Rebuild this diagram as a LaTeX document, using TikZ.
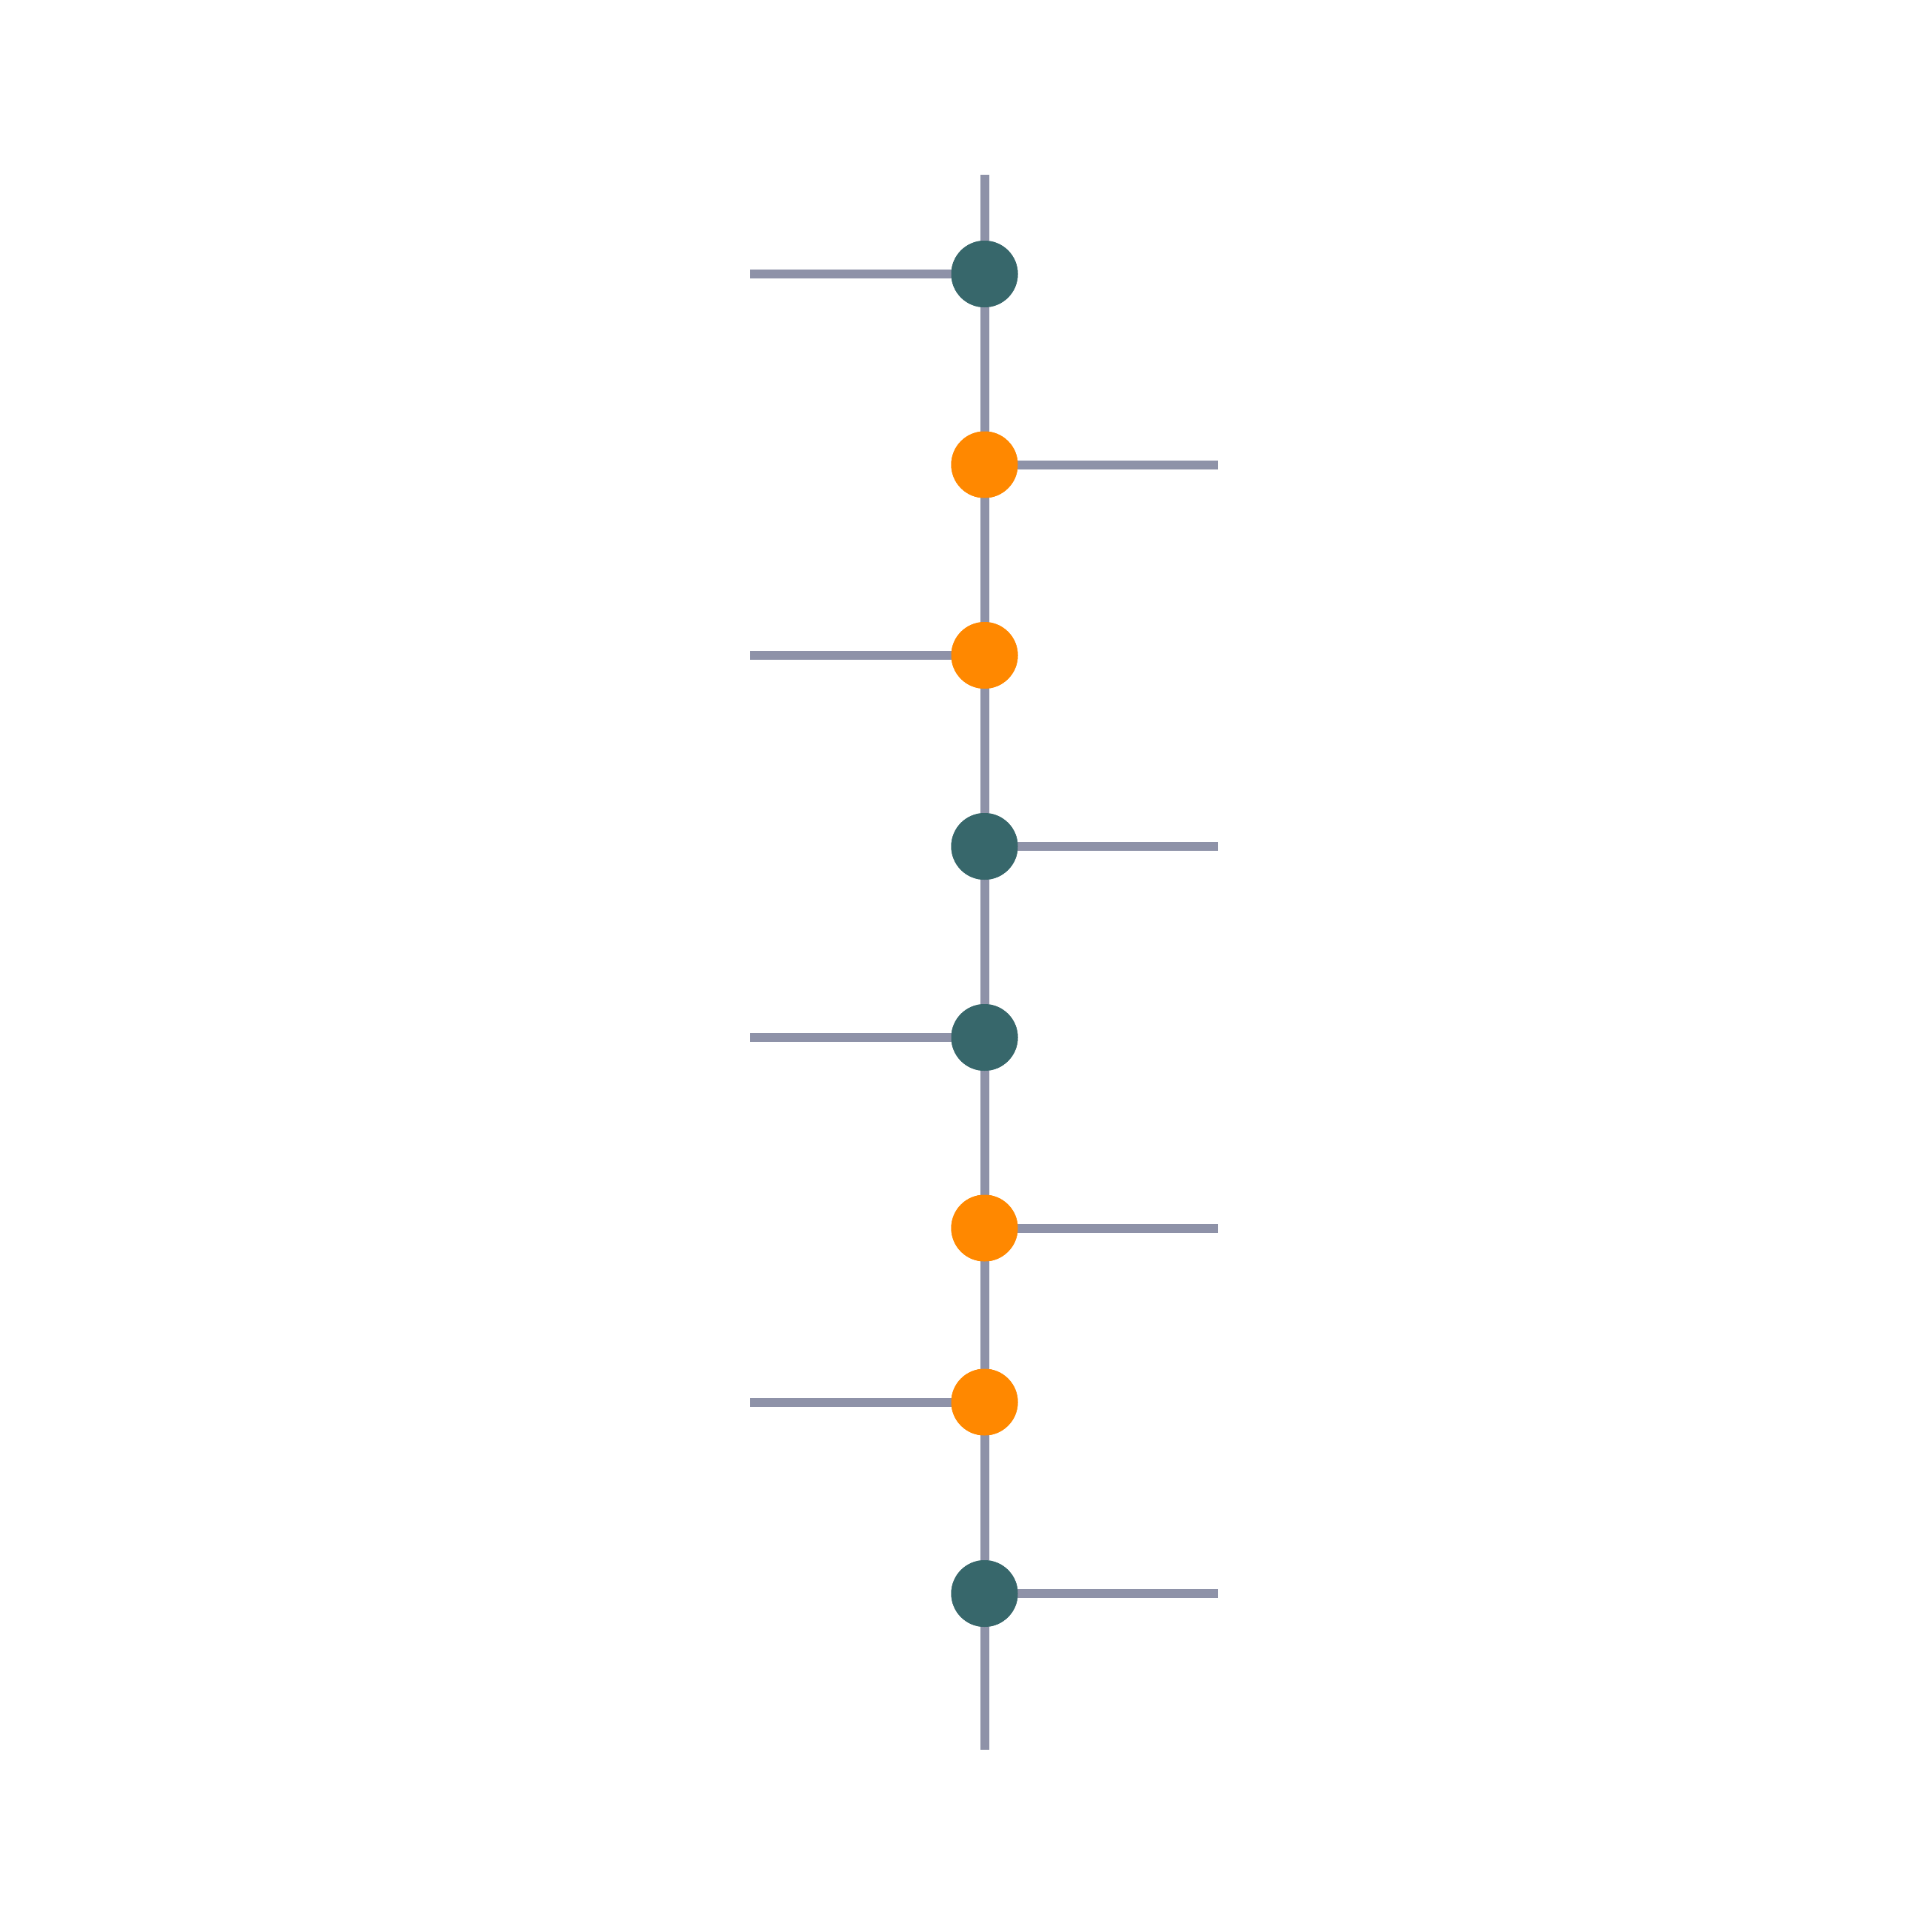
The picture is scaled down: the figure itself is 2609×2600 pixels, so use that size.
\documentclass[tikz,border=0pt]{standalone}
\usetikzlibrary{positioning}
\definecolor{linegray}{HTML}{8E92A8}
\definecolor{tealdot}{HTML}{37676B}
\definecolor{orangedot}{HTML}{FF8800}
\tikzset{
  conn/.style={draw=linegray, line width=12pt, line cap=butt},
  dot/.style={circle, inner sep=0pt, minimum size=90pt, draw=none},
  tdot/.style={dot, fill=tealdot},
  odot/.style={dot, fill=orangedot}
}
\begin{document}
\begin{tikzpicture}[x=1pt,y=-1pt]
\useasboundingbox[fill=white] (0,0) rectangle (2609,2600);
\coordinate (top) at (1329.5,236);
\coordinate (bot) at (1329.5,2363);
\node[tdot] (n1) at (1329.5,370) {};
\node[odot] (n2) at (1329.5,627.5) {};
\node[odot] (n3) at (1329.5,885) {};
\node[tdot] (n4) at (1329.5,1143) {};
\node[tdot] (n5) at (1329.5,1401) {};
\node[odot] (n6) at (1329.5,1658.5) {};
\node[odot] (n7) at (1329.5,1893.5) {};
\node[tdot] (n8) at (1329.5,2152) {};
\coordinate (l1) at (1013,370);
\coordinate (r2) at (1645,627.5);
\coordinate (l3) at (1013,885);
\coordinate (r4) at (1645,1143);
\coordinate (l5) at (1013,1401);
\coordinate (r6) at (1645,1658.5);
\coordinate (l7) at (1013,1893.5);
\coordinate (r8) at (1645,2152);
\begin{scope}[on background layer/.style={}]
\draw[conn] (top) -- (n1.center) -- (n2.center) -- (n3.center) -- (n4.center) -- (n5.center) -- (n6.center) -- (n7.center) -- (n8.center) -- (bot);
\draw[conn] (l1) -- (n1.center);
\draw[conn] (n2.center) -- (r2);
\draw[conn] (l3) -- (n3.center);
\draw[conn] (n4.center) -- (r4);
\draw[conn] (l5) -- (n5.center);
\draw[conn] (n6.center) -- (r6);
\draw[conn] (l7) -- (n7.center);
\draw[conn] (n8.center) -- (r8);
\end{scope}
\foreach \n/\s in {n1/tdot,n2/odot,n3/odot,n4/tdot,n5/tdot,n6/odot,n7/odot,n8/tdot}{
  \node[\s] at (\n) {};
}
\end{tikzpicture}
\end{document}
